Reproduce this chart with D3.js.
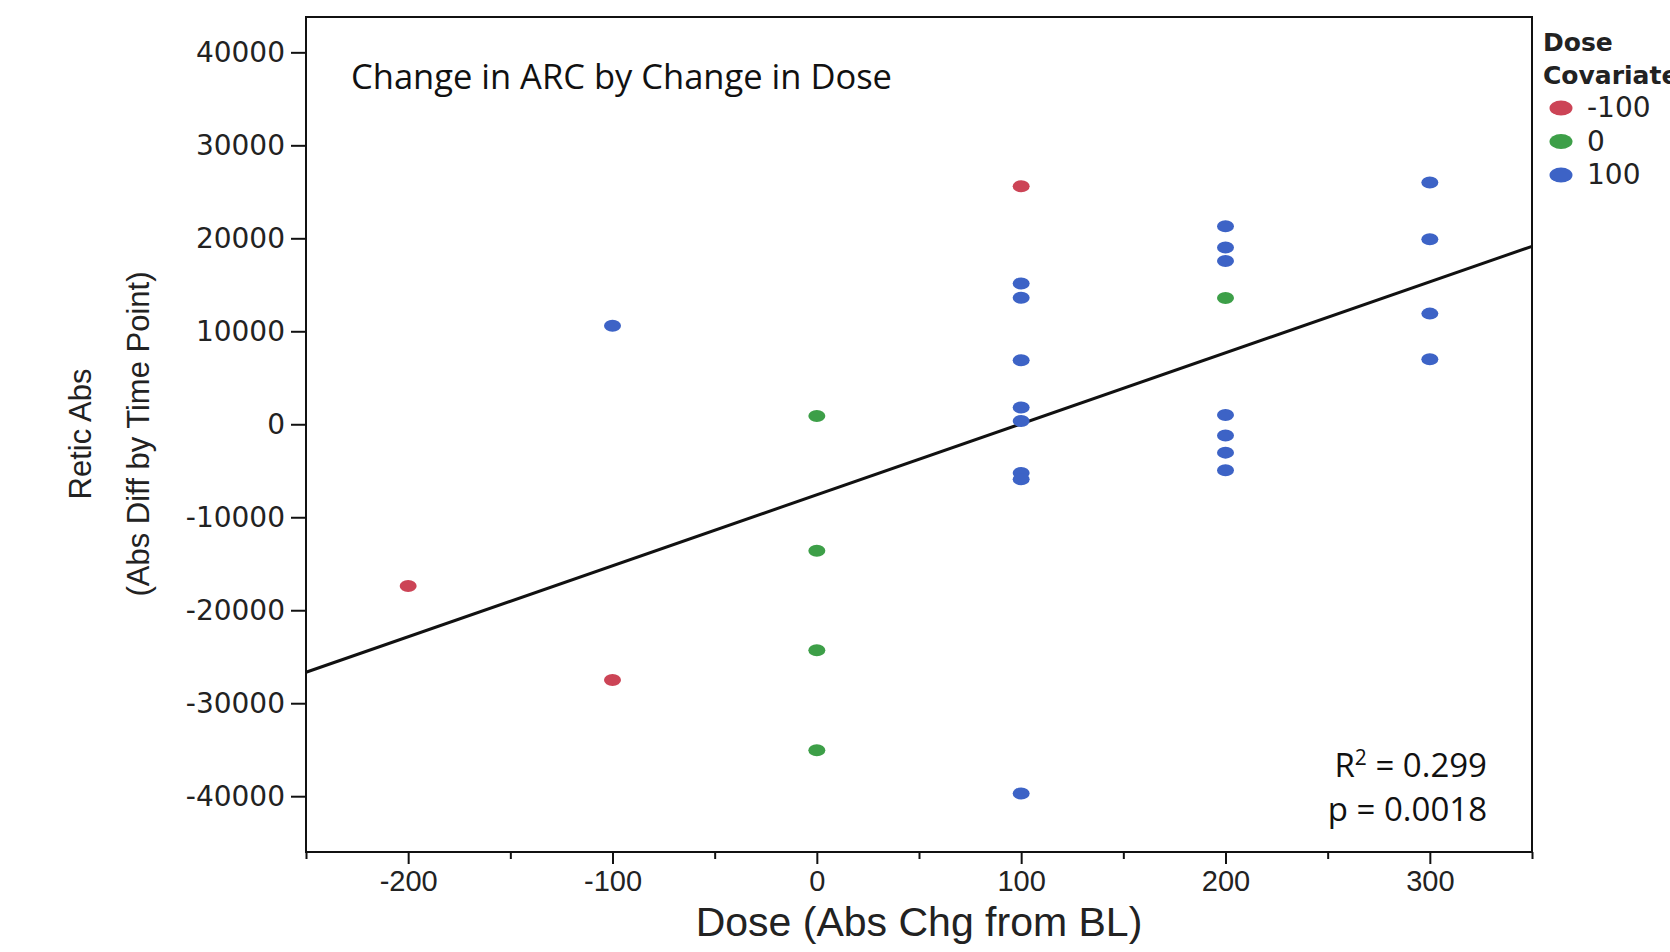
<!DOCTYPE html>
<html>
<head>
<meta charset="utf-8">
<script src="https://cdn.jsdelivr.net/npm/d3@7"></script>
<style>
  body { margin: 0; background: #fff; }
  svg { display: block; }
</style>
</head>
<body>
<div id="chart"></div>
<script>
const width = 1670;
const height = 952;
const plot = { left: 306, right: 1532, top: 17, bottom: 852 };

// data
const doseChange = [-200, -100, 100, 0, 0, 0, 0, 200, -100, 100, 100, 100, 100, 100, 100, 100, 100, 200, 200, 200, 200, 200, 200, 200, 300, 300, 300, 300];
const reticChange = [-17400, -27500, 25600, 900, -13600, -24300, -35050, 13580, 10600, 15150, 13600, 6880, 1800, 350, -5250, -5900, -39700, 21300, 19000, 17550, 1000, -1200, -3050, -4950, 26000, 19900, 11900, 7000];
const covariate = ["-100", "-100", "-100", "0", "0", "0", "0", "0", "100", "100", "100", "100", "100", "100", "100", "100", "100", "100", "100", "100", "100", "100", "100", "100", "100", "100", "100", "100"];

const covLevels = ["-100", "0", "100"];
const covColors = ["#cc4456", "#3d9f48", "#3d63c6"];

const xTicks = [-200, -100, 0, 100, 200, 300];
const xMinorTicks = [-250, -150, -50, 50, 150, 250, 350];
const yTicks = [40000, 30000, 20000, 10000, 0, -10000, -20000, -30000, -40000];

// fitted line ends
const fitX = [-250, 350];
const fitY = [-26670, 19140];

const points = doseChange.map((d, i) => ({ x: d, y: reticChange[i], c: covariate[i] }));

// plain hyphen for negatives, like the original
const plainNum = (d) => String(d);

const svg = d3
  .select("#chart")
  .append("svg")
  .attr("width", width)
  .attr("height", height);

const xScale = d3.scaleLinear().domain([-250, 350]).range([plot.left, plot.right]);
const yScale = d3.scaleLinear().domain([-46000, 43800]).range([plot.bottom, plot.top]);
const colorScale = d3.scaleOrdinal().domain(covLevels).range(covColors);

// y axis
const yAxis = svg
  .append("g")
  .attr("transform", `translate(${plot.left},0)`)
  .call(d3.axisLeft(yScale).tickValues(yTicks).tickSize(15).tickPadding(6).tickFormat(plainNum));
yAxis.select(".domain").remove();
yAxis.selectAll("line").attr("stroke", "#111").attr("stroke-width", 2);
yAxis
  .selectAll("text")
  .attr("fill", "#222")
  .style("font-family", "DejaVu Sans")
  .style("font-size", "28px");

// x axis, minor ticks first
const xMinor = svg
  .append("g")
  .attr("transform", `translate(0,${plot.bottom})`)
  .call(d3.axisBottom(xScale).tickValues(xMinorTicks).tickSize(7).tickFormat(""));
xMinor.select(".domain").remove();
xMinor.selectAll("line").attr("stroke", "#111").attr("stroke-width", 2);

const xAxis = svg
  .append("g")
  .attr("transform", `translate(0,${plot.bottom})`)
  .call(d3.axisBottom(xScale).tickValues(xTicks).tickSize(12).tickPadding(6).tickFormat(plainNum));
xAxis.select(".domain").remove();
xAxis.selectAll("line").attr("stroke", "#111").attr("stroke-width", 2);
xAxis
  .selectAll("text")
  .attr("fill", "#222")
  .style("font-family", "Liberation Sans")
  .style("font-size", "29px");

// frame
svg
  .append("rect")
  .attr("x", plot.left)
  .attr("y", plot.top)
  .attr("width", plot.right - plot.left)
  .attr("height", plot.bottom - plot.top)
  .attr("fill", "none")
  .attr("stroke", "#111")
  .attr("stroke-width", 2);

// axis titles
svg
  .append("text")
  .attr("x", (plot.left + plot.right) / 2)
  .attr("y", 936)
  .attr("text-anchor", "middle")
  .attr("fill", "#222")
  .style("font-family", "Liberation Sans")
  .style("font-size", "41px")
  .text("Dose (Abs Chg from BL)");

const yTitle = svg
  .append("text")
  .attr("transform", `translate(0,434) rotate(-90)`)
  .attr("text-anchor", "middle")
  .attr("fill", "#222")
  .style("font-family", "Liberation Sans")
  .style("font-size", "31px");
yTitle.append("tspan").attr("x", 0).attr("y", 91).text("Retic Abs");
yTitle.append("tspan").attr("x", 0).attr("y", 149).text("(Abs Diff by Time Point)");

// fit line
const fitData = fitX.map((d, i) => [d, fitY[i]]);
svg
  .append("path")
  .datum(fitData)
  .attr("fill", "none")
  .attr("stroke", "#111")
  .attr("stroke-width", 3)
  .attr("d", d3.line().x((d) => xScale(d[0])).y((d) => yScale(d[1])));

// points
svg
  .selectAll("ellipse.pt")
  .data(points)
  .enter()
  .append("ellipse")
  .attr("class", "pt")
  .attr("cx", (d) => xScale(d.x))
  .attr("cy", (d) => yScale(d.y))
  .attr("rx", 8.5)
  .attr("ry", 6)
  .attr("fill", (d) => colorScale(d.c));

// chart title and stats
svg
  .append("text")
  .attr("x", 351)
  .attr("y", 89)
  .attr("fill", "#111")
  .style("font-family", "Open Sans")
  .style("font-size", "34.5px")
  .text("Change in ARC by Change in Dose");

const r2 = svg
  .append("text")
  .attr("x", 1487)
  .attr("y", 777)
  .attr("text-anchor", "end")
  .attr("fill", "#111")
  .style("font-family", "Open Sans")
  .style("font-size", "33px");
r2.append("tspan").text("R");
r2.append("tspan").attr("dy", -12).style("font-size", "21px").text("2");
r2.append("tspan").attr("dy", 12).text(" = 0.299");

svg
  .append("text")
  .attr("x", 1487)
  .attr("y", 821)
  .attr("text-anchor", "end")
  .attr("fill", "#111")
  .style("font-family", "Open Sans")
  .style("font-size", "33px")
  .text("p = 0.0018");

// legend
const legend = svg.append("g").attr("transform", "translate(1543,0)");

legend
  .append("text")
  .attr("x", 0)
  .attr("y", 51)
  .attr("fill", "#222")
  .style("font-family", "DejaVu Sans")
  .style("font-weight", "bold")
  .style("font-size", "25px")
  .text("Dose");
legend
  .append("text")
  .attr("x", 0)
  .attr("y", 84)
  .attr("fill", "#222")
  .style("font-family", "DejaVu Sans")
  .style("font-weight", "bold")
  .style("font-size", "25px")
  .text("Covariate");

legend
  .selectAll("ellipse")
  .data(covLevels)
  .enter()
  .append("ellipse")
  .attr("cx", 18)
  .attr("cy", (d, i) => 108 + i * 33.5)
  .attr("rx", 11.5)
  .attr("ry", 7.5)
  .attr("fill", (d) => colorScale(d));

legend
  .selectAll("text.item")
  .data(covLevels)
  .enter()
  .append("text")
  .attr("class", "item")
  .attr("x", 44)
  .attr("y", (d, i) => 108 + i * 33.5 + 9)
  .attr("fill", "#222")
  .style("font-family", "DejaVu Sans")
  .style("font-size", "28px")
  .text((d) => d);
</script>
</body>
</html>
